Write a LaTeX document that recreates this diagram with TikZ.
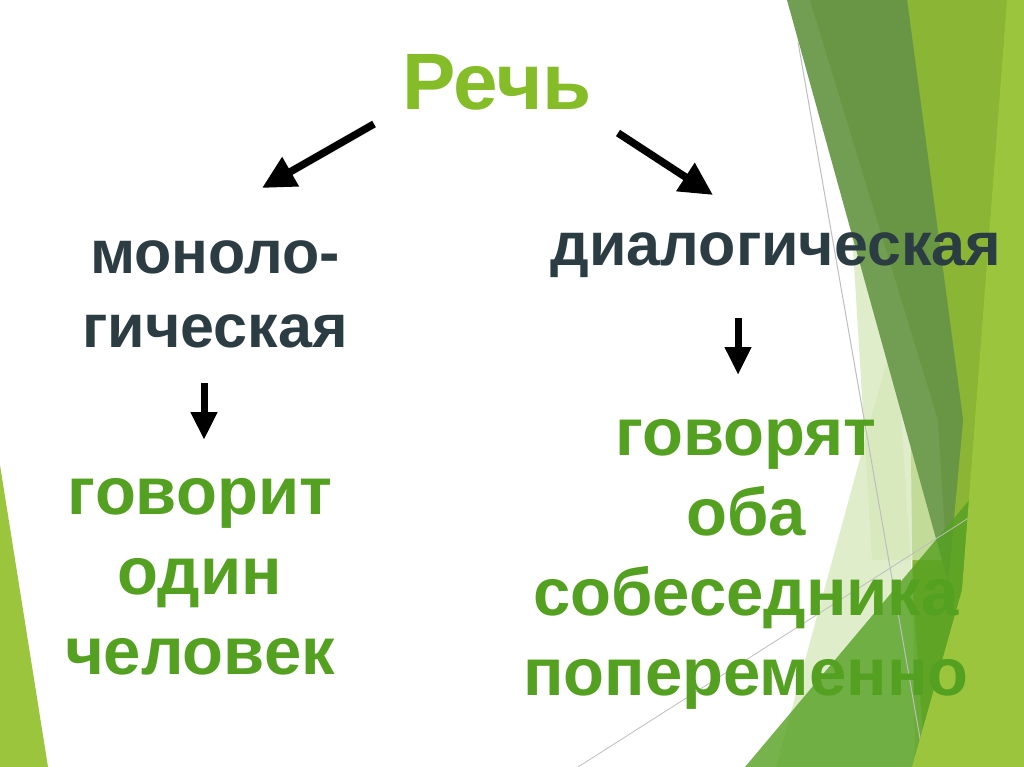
\documentclass[tikz,border=0pt]{standalone}
\usepackage{fontspec}
\setmainfont{Liberation Sans}
\usetikzlibrary{arrows.meta}
\definecolor{rechc}{RGB}{132,189,40}
\definecolor{darkt}{HTML}{2C3C43}
\definecolor{greent}{HTML}{54A021}
\definecolor{bgbright}{RGB}{154,197,60}
\definecolor{bgmed}{RGB}{139,181,52}
\definecolor{bgdark}{RGB}{113,158,82}
\definecolor{bgdarker}{RGB}{104,150,68}
\definecolor{bgpale}{RGB}{214,232,186}
\definecolor{bggreen}{HTML}{54A021}
\definecolor{bgline}{RGB}{190,190,190}
\tikzset{
  darktext/.style={text=darkt, font=\bfseries\fontsize{61}{74}\selectfont, inner sep=0pt},
  greentext/.style={text=greent, font=\bfseries\fontsize{67}{80}\selectfont, inner sep=0pt},
  bigarrow/.style={line width=7.5pt, -{Triangle[length=33pt,width=32pt]}},
  downarrow/.style={line width=7pt, -{Triangle[length=28pt,width=25pt]}},
}
\begin{document}
\begin{tikzpicture}[x=1pt,y=-1pt]
\useasboundingbox (0,0) rectangle (1024,767);
\fill[white] (0,0) rectangle (1024,767);
% left decoration
\fill[bgbright] (0,465) -- (0,767) -- (48,767) -- cycle;
% right decoration
\fill[bgmed] (905,0) -- (1024,0) -- (1024,767) -- (915,767) -- cycle;
\fill[bgpale, fill opacity=0.75] (895,330) -- (776,767) -- (925,767) -- cycle;
\fill[bgpale, fill opacity=0.75] (852,232) -- (872,560) -- (945,560) -- cycle;
\fill[bgdark] (787,0) -- (907,0) -- (963,420) -- (948,582) -- cycle;
\fill[bgdarker] (810,0) -- (907,0) -- (963,420) -- (948,582) -- (938,420) -- cycle;
\fill[bggreen, fill opacity=0.8] (745,767) -- (1024,435) -- (1024,767) -- cycle;
\draw[bgline, line width=1pt] (798,42) -- (925,767);
\draw[bgline, line width=0.8pt] (578,767) -- (1000,498);
\fill[bgbright] (1007,0) -- (1024,0) -- (1024,767) -- (912,767) -- (962,590) -- cycle;
% texts
\node[text=rechc, font=\bfseries\fontsize{80}{94}\selectfont, inner sep=0pt, anchor=base] (rech) at (497,110) {Речь};
\node[darktext, anchor=north, align=center] (mono) at (215,240) {моноло-\\гическая};
\node[darktext, anchor=base] (dia) at (776,265) {диалогическая};
\node[greentext, anchor=north, align=center] (one) at (200,478) {говорит\\один\\человек};
\node[greentext, anchor=north, align=center] (both) at (746,419) {говорят\\оба\\собеседника\\попеременно};
% arrows
\coordinate (a1s) at (374,124);
\coordinate (a1e) at (262,188);
\coordinate (a2s) at (618,133);
\coordinate (a2e) at (713,195);
\coordinate (a3s) at (204,383);
\coordinate (a3e) at (204,440);
\coordinate (a4s) at (738,318);
\coordinate (a4e) at (738,375);
\draw[bigarrow] (a1s) -- (a1e);
\draw[bigarrow] (a2s) -- (a2e);
\draw[downarrow] (a3s) -- (a3e);
\draw[downarrow] (a4s) -- (a4e);
\end{tikzpicture}
\end{document}
